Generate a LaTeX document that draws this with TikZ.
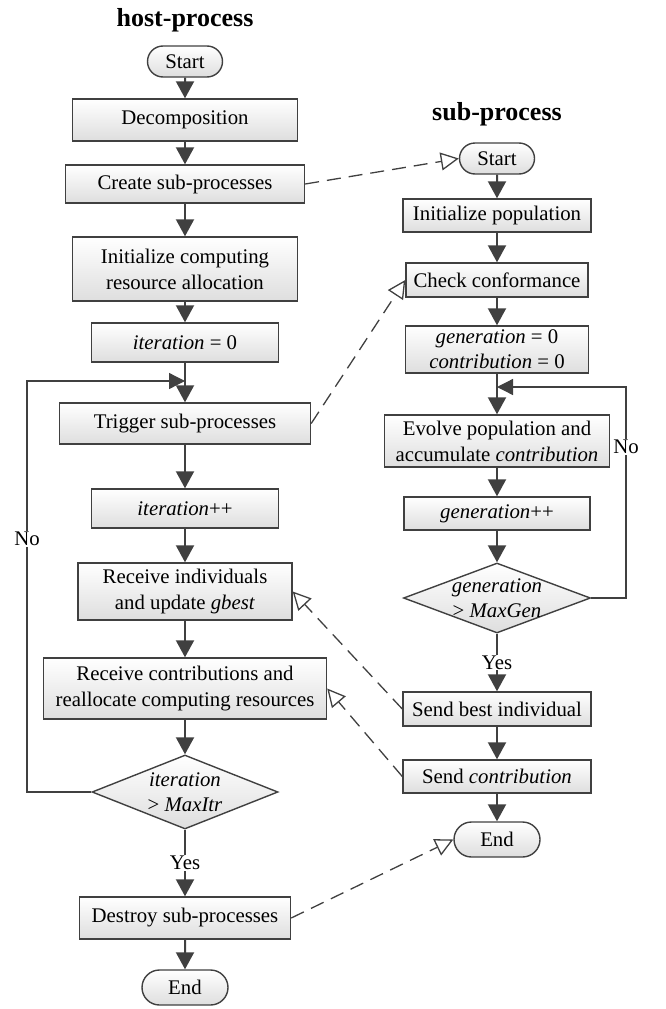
\documentclass[tikz,border=0pt]{standalone}
\usepackage{fontspec}
\setmainfont{Liberation Serif}
\usetikzlibrary{arrows.meta,shapes.geometric,shapes.misc}
\definecolor{linec}{HTML}{404040}
\definecolor{boxbot}{HTML}{DEDEDE}
\begin{document}
\begin{tikzpicture}[x=1pt,y=-1pt,
 every node/.style={font=\fontsize{20.8}{26}\selectfont, text=black},
 proc/.style={draw=linec, line width=1.4pt, top color=white, bottom color=boxbot, inner sep=0pt, align=center},
 term/.style={proc, rounded rectangle},
 decision/.style={draw=linec, line width=1.4pt, top color=white, bottom color=boxbot, diamond, inner sep=0pt},
 flow/.style={draw=linec, line width=2pt, -{Triangle[length=17pt,width=18pt]}},
 back/.style={draw=linec, line width=1.3pt, -{Triangle[length=16pt,width=16pt]}},
 msg/.style={draw=linec, line width=1.3pt, dash pattern=on 14pt off 8pt, -{Triangle[open,fill=white,length=18pt,width=18pt,line width=1.3pt]}},
 lbl/.style={fill=white, inner sep=1pt},
 title/.style={font=\fontsize{26}{30}\selectfont\bfseries, anchor=base}]
\useasboundingbox (0,0) rectangle (665,1009);

% titles
\node[title] (th) at (185,26) {host-process};
\node[title] (ts) at (497,120) {sub-process};

% host-process column
\node[term, minimum width=75pt, minimum height=31pt] (hs) at (185,61.5) {Start};
\node[proc, minimum width=225pt, minimum height=42pt] (dec) at (185,120) {Decomposition};
\node[proc, minimum width=239pt, minimum height=38pt] (cre) at (185,184) {Create sub-processes};
\node[proc, minimum width=225pt, minimum height=64pt] (ini) at (185,269) {Initialize computing\\resource allocation};
\node[proc, minimum width=187pt, minimum height=39pt] (it0) at (185,342.5) {\textit{iteration} = 0};
\node[proc, minimum width=251pt, minimum height=41pt] (trg) at (185,423.5) {Trigger sub-processes};
\node[proc, minimum width=187pt, minimum height=39pt] (itp) at (185,508.5) {\textit{iteration}++};
\node[proc, minimum width=214pt, minimum height=57pt] (rc1) at (185,591.5) {Receive individuals\\and update \textit{gbest}};
\node[proc, minimum width=283pt, minimum height=61pt] (rc2) at (185,688.5) {Receive contributions and\\reallocate computing resources};
\node[decision, minimum width=186pt, minimum height=74pt,
      label={[align=center, font=\fontsize{20.8}{25}\selectfont]center:\textit{iteration}\\> \textit{MaxItr}}] (d1) at (185,792) {};
\node[proc, minimum width=211pt, minimum height=42pt] (des) at (185,918) {Destroy sub-processes};
\node[term, minimum width=86pt, minimum height=35pt] (he) at (185,987.5) {End};

% sub-process column
\node[term, minimum width=75pt, minimum height=31pt] (ss) at (497,158.5) {Start};
\node[proc, minimum width=188pt, minimum height=33pt] (ipo) at (497,215.5) {Initialize population};
\node[proc, minimum width=182pt, minimum height=34pt] (chk) at (497,280) {Check conformance};
\node[proc, minimum width=183pt, minimum height=47pt, font=\fontsize{20.8}{25}\selectfont] (g0) at (497,349.5) {\textit{generation} = 0\\\textit{contribution} = 0};
\node[proc, minimum width=225pt, minimum height=52pt] (evo) at (497,441) {Evolve population and\\accumulate \textit{contribution}};
\node[proc, minimum width=186pt, minimum height=33pt] (gpp) at (497,513.5) {\textit{generation}++};
\node[decision, minimum width=187pt, minimum height=70pt,
      label={[align=center, font=\fontsize{20.8}{25}\selectfont]center:\textit{generation}\\> \textit{MaxGen}}] (d2) at (497,598) {};
\node[proc, minimum width=188pt, minimum height=34pt] (sb) at (497,709) {Send best individual};
\node[proc, minimum width=188pt, minimum height=33pt] (sc) at (497,776.5) {Send \textit{contribution}};
\node[term, minimum width=86pt, minimum height=35pt] (se) at (497,839.5) {End};

% junctions
\coordinate (j1) at (185,381);
\coordinate (c1) at (27,381);
\coordinate (j2) at (497,387);
\coordinate (c2) at (626,387);

% host flow
\draw[flow] (hs) -- (dec);
\draw[flow] (dec) -- (cre);
\draw[flow] (cre) -- (ini);
\draw[flow] (ini) -- (it0);
\draw[flow] (it0) -- (trg);
\draw[flow] (trg) -- (itp);
\draw[flow] (itp) -- (rc1);
\draw[flow] (rc1) -- (rc2);
\draw[flow] (rc2) -- (d1);
\draw[flow] (d1.south) -- node[lbl] (y1) {Yes} (des.north);
\draw[flow] (des) -- (he);
\draw[back] (d1.west) -| (c1) -- (j1);
\node[lbl] (no1) at (27,539) {No};

% sub flow
\draw[flow] (ss) -- (ipo);
\draw[flow] (ipo) -- (chk);
\draw[flow] (chk) -- (g0);
\draw[flow] (g0) -- (evo);
\draw[flow] (evo) -- (gpp);
\draw[flow] (gpp) -- (d2);
\draw[flow] (d2.south) -- node[lbl] (y2) {Yes} (sb.north);
\draw[flow] (sb) -- (sc);
\draw[flow] (sc) -- (se);
\draw[back] (d2.east) -| (c2) -- (j2);
\node[lbl] (no2) at (626,447) {No};

% messages
\draw[msg] (cre.east) -- (ss.west);
\draw[msg] (trg.east) -- (chk.west);
\draw[msg] (sb.west) -- (rc1.east);
\draw[msg] (sc.west) -- (rc2.east);
\draw[msg] (des.east) -- (se.west);
\end{tikzpicture}
\end{document}
